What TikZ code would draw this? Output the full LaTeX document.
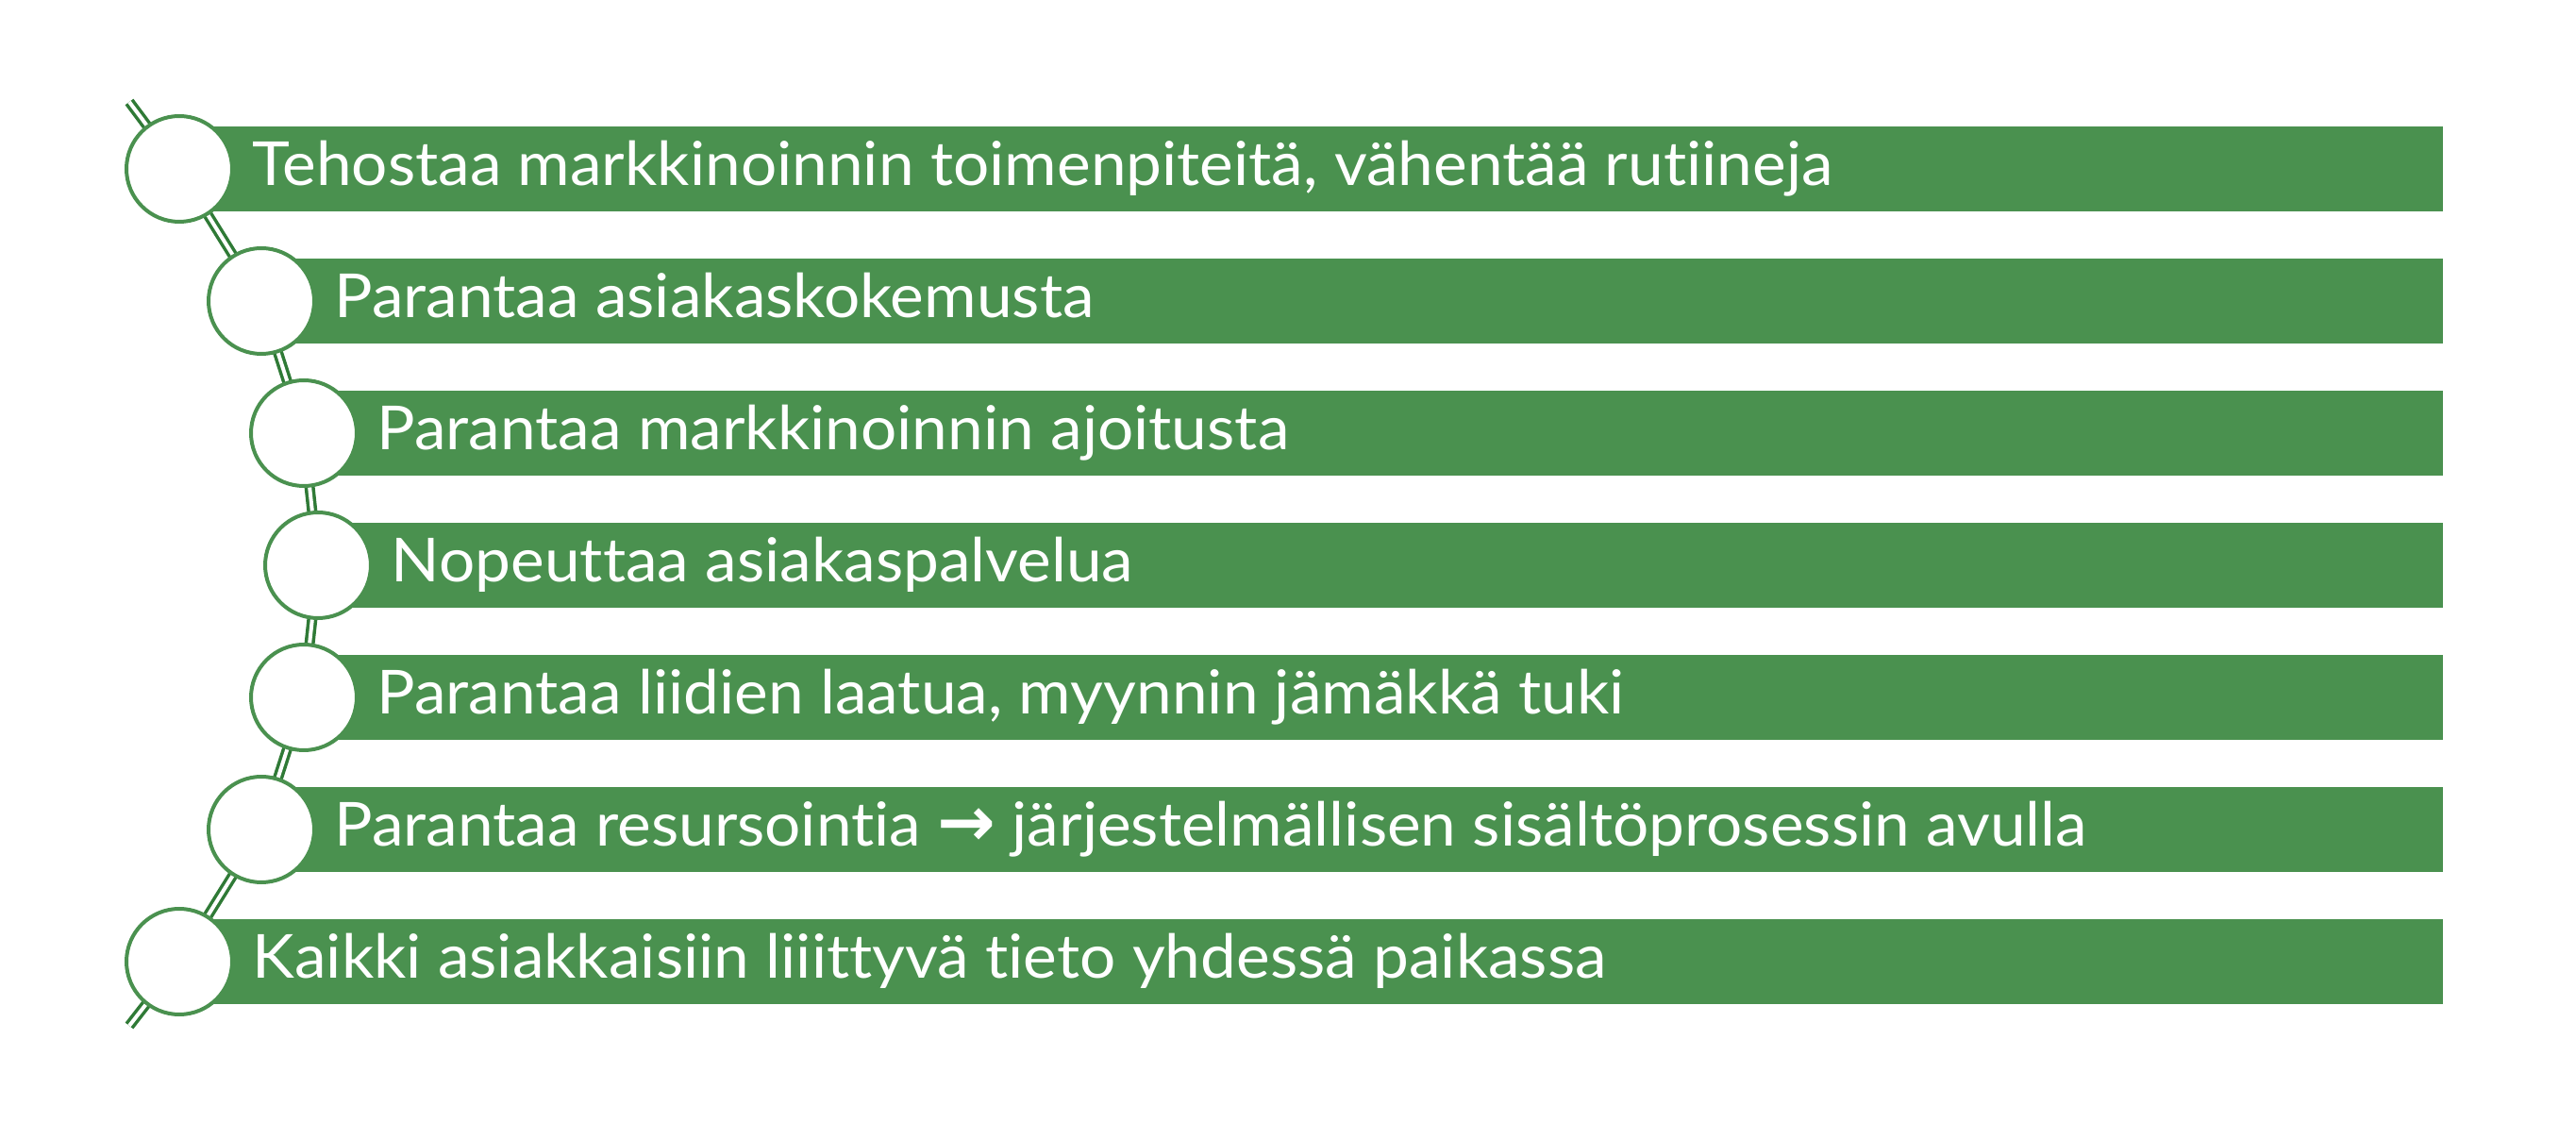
\documentclass[tikz,border=0pt]{standalone}
\usepackage{fontspec}
\setmainfont{Lato}[Ligatures=NoCommon, FakeStretch=1.05]
\newfontfamily\arrowfont{DejaVu Sans}
\usepackage{xcolor}
\usetikzlibrary{positioning}
\definecolor{bargreen}{HTML}{4A914F}
\definecolor{linkgreen}{HTML}{2F7A36}

\begin{document}
\begin{tikzpicture}[
    bar/.style={rectangle, fill=bargreen, minimum height=0.9cm, inner sep=0pt, anchor=west},
    dot/.style={circle, draw=bargreen, line width=0.04cm, fill=white, minimum size=1.12cm, inner sep=0pt},
    link/.style={draw=linkgreen, double=white, double distance=0.04cm, line width=0.035cm},
    item/.style={font=\fontsize{18.3}{22}\selectfont, text=white, inner sep=0pt, text height=0.46cm, text depth=0.10cm}]

    \useasboundingbox (0,0) rectangle (27.30,-11.90);

    % Points of the chain
    \coordinate (top) at (1.37,-1.08);
    \coordinate (p1) at (1.90,-1.79);
    \coordinate (p2) at (2.77,-3.19);
    \coordinate (p3) at (3.22,-4.59);
    \coordinate (p4) at (3.37,-5.99);
    \coordinate (p5) at (3.22,-7.39);
    \coordinate (p6) at (2.77,-8.79);
    \coordinate (p7) at (1.90,-10.19);
    \coordinate (bottom) at (1.37,-10.87);

    % Chain behind everything
    \draw[link] (top) -- (p1) -- (p2) -- (p3) -- (p4) -- (p5) -- (p6) -- (p7) -- (bottom);

    % Green bars
    \node[bar, minimum width=23.98cm] (b1) at (p1) {};
    \node[bar, minimum width=23.11cm] (b2) at (p2) {};
    \node[bar, minimum width=22.66cm] (b3) at (p3) {};
    \node[bar, minimum width=22.51cm] (b4) at (p4) {};
    \node[bar, minimum width=22.66cm] (b5) at (p5) {};
    \node[bar, minimum width=23.11cm] (b6) at (p6) {};
    \node[bar, minimum width=23.98cm] (b7) at (p7) {};

    % Circles
    \node[dot] (c1) at (p1) {};
    \node[dot] (c2) at (p2) {};
    \node[dot] (c3) at (p3) {};
    \node[dot] (c4) at (p4) {};
    \node[dot] (c5) at (p5) {};
    \node[dot] (c6) at (p6) {};
    \node[dot] (c7) at (p7) {};

    % Texts
    \node[item, right=0.19cm of c1] (t1) {Tehostaa markkinoinnin toimenpiteitä, vähentää rutiineja};
    \node[item, right=0.19cm of c2] (t2) {Parantaa asiakaskokemusta};
    \node[item, right=0.19cm of c3] (t3) {Parantaa markkinoinnin ajoitusta};
    \node[item, right=0.19cm of c4] (t4) {Nopeuttaa asiakaspalvelua};
    \node[item, right=0.19cm of c5] (t5) {Parantaa liidien laatua, myynnin jämäkkä tuki};
    \node[item, right=0.19cm of c6] (t6) {Parantaa resursointia {\arrowfont\bfseries\fontsize{21}{22}\selectfont →} järjestelmällisen sisältöprosessin avulla};
    \node[item, right=0.19cm of c7] (t7) {Kaikki asiakkaisiin liiittyvä tieto yhdessä paikassa};

\end{tikzpicture}
\end{document}
